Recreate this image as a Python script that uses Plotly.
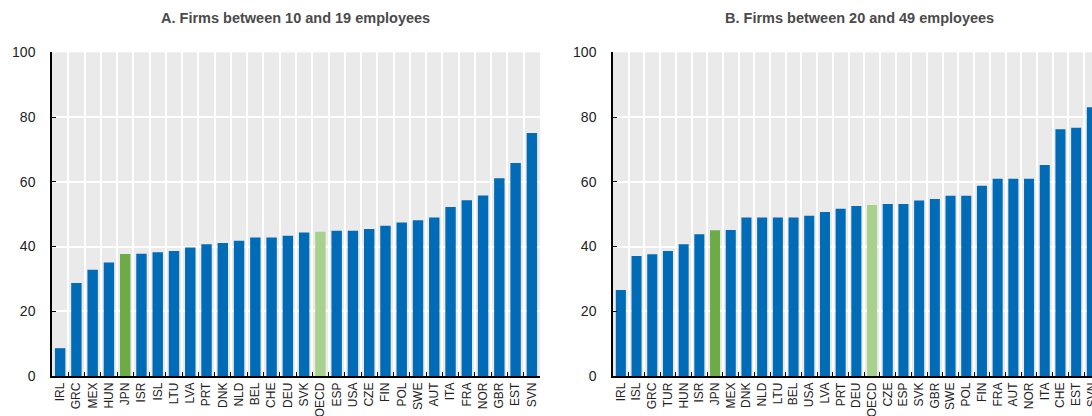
import plotly.graph_objects as go

# Panel A: firms between 10 and 19 employees
countries_a = ["IRL", "GRC", "MEX", "HUN", "JPN", "ISR", "ISL", "LTU", "LVA", "PRT",
               "DNK", "NLD", "BEL", "CHE", "DEU", "SVK", "OECD", "ESP", "USA", "CZE",
               "FIN", "POL", "SWE", "AUT", "ITA", "FRA", "NOR", "GBR", "EST", "SVN"]
values_a = [8.6, 28.7, 32.8, 35.1, 37.7, 37.8, 38.2, 38.6, 39.7, 40.7,
            41.1, 41.8, 42.8, 42.8, 43.3, 44.3, 44.6, 44.9, 44.9, 45.4,
            46.4, 47.4, 48.1, 49.0, 52.2, 54.3, 55.8, 61.1, 65.8, 75.1]

# Panel B: firms between 20 and 49 employees
countries_b = ["IRL", "ISL", "GRC", "TUR", "HUN", "ISR", "JPN", "MEX", "DNK", "NLD",
               "LTU", "BEL", "USA", "LVA", "PRT", "DEU", "OECD", "CZE", "ESP", "SVK",
               "GBR", "SWE", "POL", "FIN", "FRA", "AUT", "NOR", "ITA", "CHE", "EST", "SVN"]
values_b = [26.6, 37.1, 37.6, 38.6, 40.7, 43.8, 45.0, 45.1, 49.0, 49.0,
            49.0, 49.0, 49.5, 50.7, 51.7, 52.5, 52.8, 53.1, 53.1, 54.2,
            54.7, 55.7, 55.7, 58.8, 60.9, 60.9, 60.9, 65.2, 76.2, 76.7, 83.0]

titles = ["A. Firms between 10 and 19 employees", "B. Firms between 20 and 49 employees"]
y_ticks = [0, 20, 40, 60, 80, 100]

BLUE = "#006BB6"
GREEN = "#6CAB46"
LIGHT_GREEN = "#A9D18E"


def bar_colors(names):
    out = []
    for n in names:
        if n == "JPN":
            out.append(GREEN)
        elif n == "OECD":
            out.append(LIGHT_GREEN)
        else:
            out.append(BLUE)
    return out


W, H = 1092, 416
fig = go.Figure()
fig.add_trace(go.Bar(x=countries_a, y=values_a, marker=dict(color=bar_colors(countries_a), line_width=0),
                     xaxis="x", yaxis="y", showlegend=False))
fig.add_trace(go.Bar(x=countries_b, y=values_b, marker=dict(color=bar_colors(countries_b), line_width=0),
                     xaxis="x2", yaxis="y2", showlegend=False))

tick_font = dict(family="Liberation Sans, Arial", size=12, color="#222222")
ylab_font = dict(family="Liberation Sans, Arial", size=14, color="#222222")
title_font = dict(family="Liberation Sans, Arial", size=14.5, color="#4A4A4A")

y_dom = [(H - 376) / H, (H - 52.3) / H]
xa_dom = [52 / W, 540 / W]
xb_dom = [613 / W, 1.0]
b_units = (W - 613) / 15.7

common_x = dict(type="category", tickson="boundaries", dtick=1, ticks="inside", ticklen=4, tickwidth=1,
                tickcolor="black", showline=True, linecolor="black", linewidth=1.5,
                showgrid=True, gridcolor="white", gridwidth=2, tickangle=-90,
                tickfont=tick_font, zeroline=False, automargin=False)
common_y = dict(range=[0, 100], tickvals=y_ticks, ticks="inside", ticklen=4, tickwidth=1,
                tickcolor="black", showline=True, linecolor="black", linewidth=1.5,
                showgrid=True, gridcolor="white", gridwidth=2, zeroline=False,
                tickfont=ylab_font, ticklabelstandoff=12, automargin=False)

fig.update_layout(
    width=W, height=H,
    margin=dict(l=0, r=0, t=0, b=0, pad=0, autoexpand=False),
    paper_bgcolor="white",
    plot_bgcolor="#EAEAEA",
    bargap=0.36,
    xaxis=dict(domain=xa_dom, anchor="y", range=[-0.5, len(countries_a) - 0.5], **common_x),
    yaxis=dict(domain=y_dom, anchor="x", **common_y),
    xaxis2=dict(domain=xb_dom, anchor="y2", range=[-0.5, -0.5 + b_units], **common_x),
    yaxis2=dict(domain=y_dom, anchor="x2", **common_y),
    annotations=[
        dict(text="<b>" + titles[0] + "</b>", x=295 / W, y=(H - 18) / H, xref="paper", yref="paper",
             xanchor="center", yanchor="middle", showarrow=False, font=title_font),
        dict(text="<b>" + titles[1] + "</b>", x=859 / W, y=(H - 18) / H, xref="paper", yref="paper",
             xanchor="center", yanchor="middle", showarrow=False, font=title_font),
    ],
)

fig.write_html("out.html")
